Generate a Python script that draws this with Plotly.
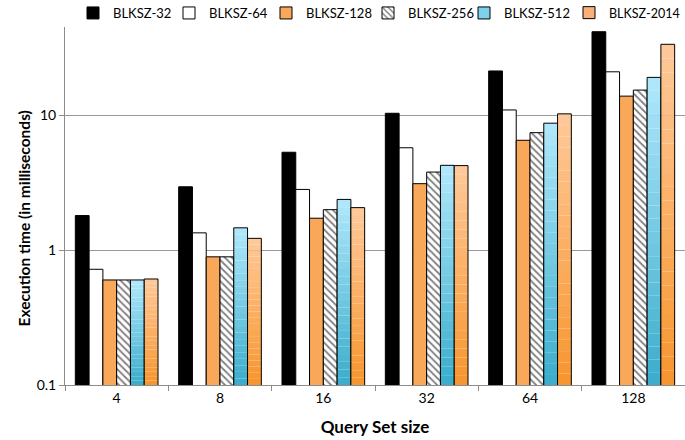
import plotly.graph_objects as go

categories = ["4", "8", "16", "32", "64", "128"]
series_names = ["BLKSZ-32", "BLKSZ-64", "BLKSZ-128", "BLKSZ-256", "BLKSZ-512", "BLKSZ-2014"]
blksz_32 = [1.80, 2.94, 5.3, 10.3, 21.2, 41.4]
blksz_64 = [0.72, 1.34, 2.81, 5.72, 10.9, 20.9]
blksz_128 = [0.60, 0.89, 1.72, 3.10, 6.5, 13.8]
blksz_256 = [0.60, 0.89, 1.99, 3.78, 7.4, 15.3]
blksz_512 = [0.60, 1.46, 2.37, 4.24, 8.7, 19.0]
blksz_2014 = [0.61, 1.22, 2.06, 4.22, 10.2, 33.4]

FLOOR = 0.1
FONT = "Lato, Open Sans, sans-serif"
# legend marker centres (px) as seen in the reference (last one is right-aligned)
legend_px = [91, 187, 284, 386, 482, None]
legend_ids = ["legend", "legend2", "legend3", "legend4", "legend5", "legend6"]

fig = go.Figure()

def solid(k, vals, color, og, pattern=None):
    m = dict(color=color, line=dict(color="black", width=1))
    if pattern:
        m["pattern"] = pattern
    fig.add_trace(go.Bar(name=series_names[k], x=categories, y=vals, marker=m, offsetgroup=og,
                         legend=legend_ids[k]))

def lerp(c1, c2, t):
    return "rgb(%d,%d,%d)" % tuple(round(a + (b - a) * t) for a, b in zip(c1, c2))

def gradient(k, vals, top_c, bot_c, legend_c, og, steps=24):
    fig.add_trace(go.Bar(name=series_names[k], x=categories, y=[None] * len(vals), offsetgroup=og,
                         legend=legend_ids[k],
                         marker=dict(color=legend_c, line=dict(color="black", width=1))))
    for i in range(steps):
        bases, heights = [], []
        for v in vals:
            r = v / FLOOR
            b = FLOOR * r ** (i / steps)
            t = FLOOR * r ** ((i + 1) / steps)
            bases.append(b)
            heights.append(t - b)
        fig.add_trace(go.Bar(x=categories, y=heights, base=bases, offsetgroup=og, showlegend=False,
                             hoverinfo="skip",
                             marker=dict(color=lerp(bot_c, top_c, (i + 0.5) / steps), line=dict(width=0))))
    fig.add_trace(go.Bar(x=categories, y=vals, offsetgroup=og, showlegend=False,
                         marker=dict(color="rgba(0,0,0,0)", line=dict(color="black", width=1))))

solid(0, blksz_32, "black", "a")
solid(1, blksz_64, "white", "b")
solid(2, blksz_128, "#f9a85a", "c")
solid(3, blksz_256, "white", "d",
      pattern=dict(shape="\\", fgcolor="black", bgcolor="white", size=5, solidity=0.35))
gradient(4, blksz_512, (176, 232, 252), (58, 172, 203), "#7fd0ea", "e")
gradient(5, blksz_2014, (255, 201, 154), (247, 149, 46), "#fbb07a", "f")

W, H = 685, 440
ML, MR, MT, MB = 65, 0, 27, 55
PW = W - ML - MR
PH = H - MT - MB

layout = dict(
    width=W, height=H,
    margin=dict(l=ML, r=MR, t=MT, b=MB, autoexpand=False),
    barmode="group", bargap=0.2, bargroupgap=0,
    plot_bgcolor="white", paper_bgcolor="white",
    font=dict(family=FONT, size=14, color="black"),
    xaxis=dict(showline=True, linecolor="#8c8c8c", ticks="outside", tickcolor="#8c8c8c",
               ticklen=5, tickson="boundaries", automargin=False,
               title=dict(text="<b>Query Set size</b>", font=dict(size=17), standoff=16)),
    yaxis=dict(type="log", range=[-1, 1.652], showline=True, linecolor="#8c8c8c",
               ticks="outside", tickcolor="#8c8c8c", ticklen=5, automargin=False,
               tickvals=[0.1, 1, 10], ticktext=["0.1", "1", "10"],
               showgrid=True, gridcolor="#999999", gridwidth=1),
    annotations=[dict(text="<b>Execution time (in milliseconds)</b>", textangle=-90,
                      xref="paper", yref="paper", x=(23 - ML) / PW, y=(H - MB - 218.5) / PH,
                      xanchor="center", yanchor="middle", showarrow=False,
                      font=dict(size=15.5))],
)
for lid, px in zip(legend_ids, legend_px):
    if px is None:
        pos = dict(x=1.0, xanchor="right", font=dict(size=12.5))
    else:
        pos = dict(x=(px - 18 - ML) / PW, xanchor="left", font=dict(size=13))
    layout[lid] = dict(orientation="h", yref="container", y=1 - 13 / H, yanchor="middle",
                       itemwidth=30, bgcolor="rgba(0,0,0,0)", **pos)
fig.update_layout(**layout)

fig.write_html("out.html", post_script="document.body.style.margin='0px';",
               config={"displayModeBar": False})
